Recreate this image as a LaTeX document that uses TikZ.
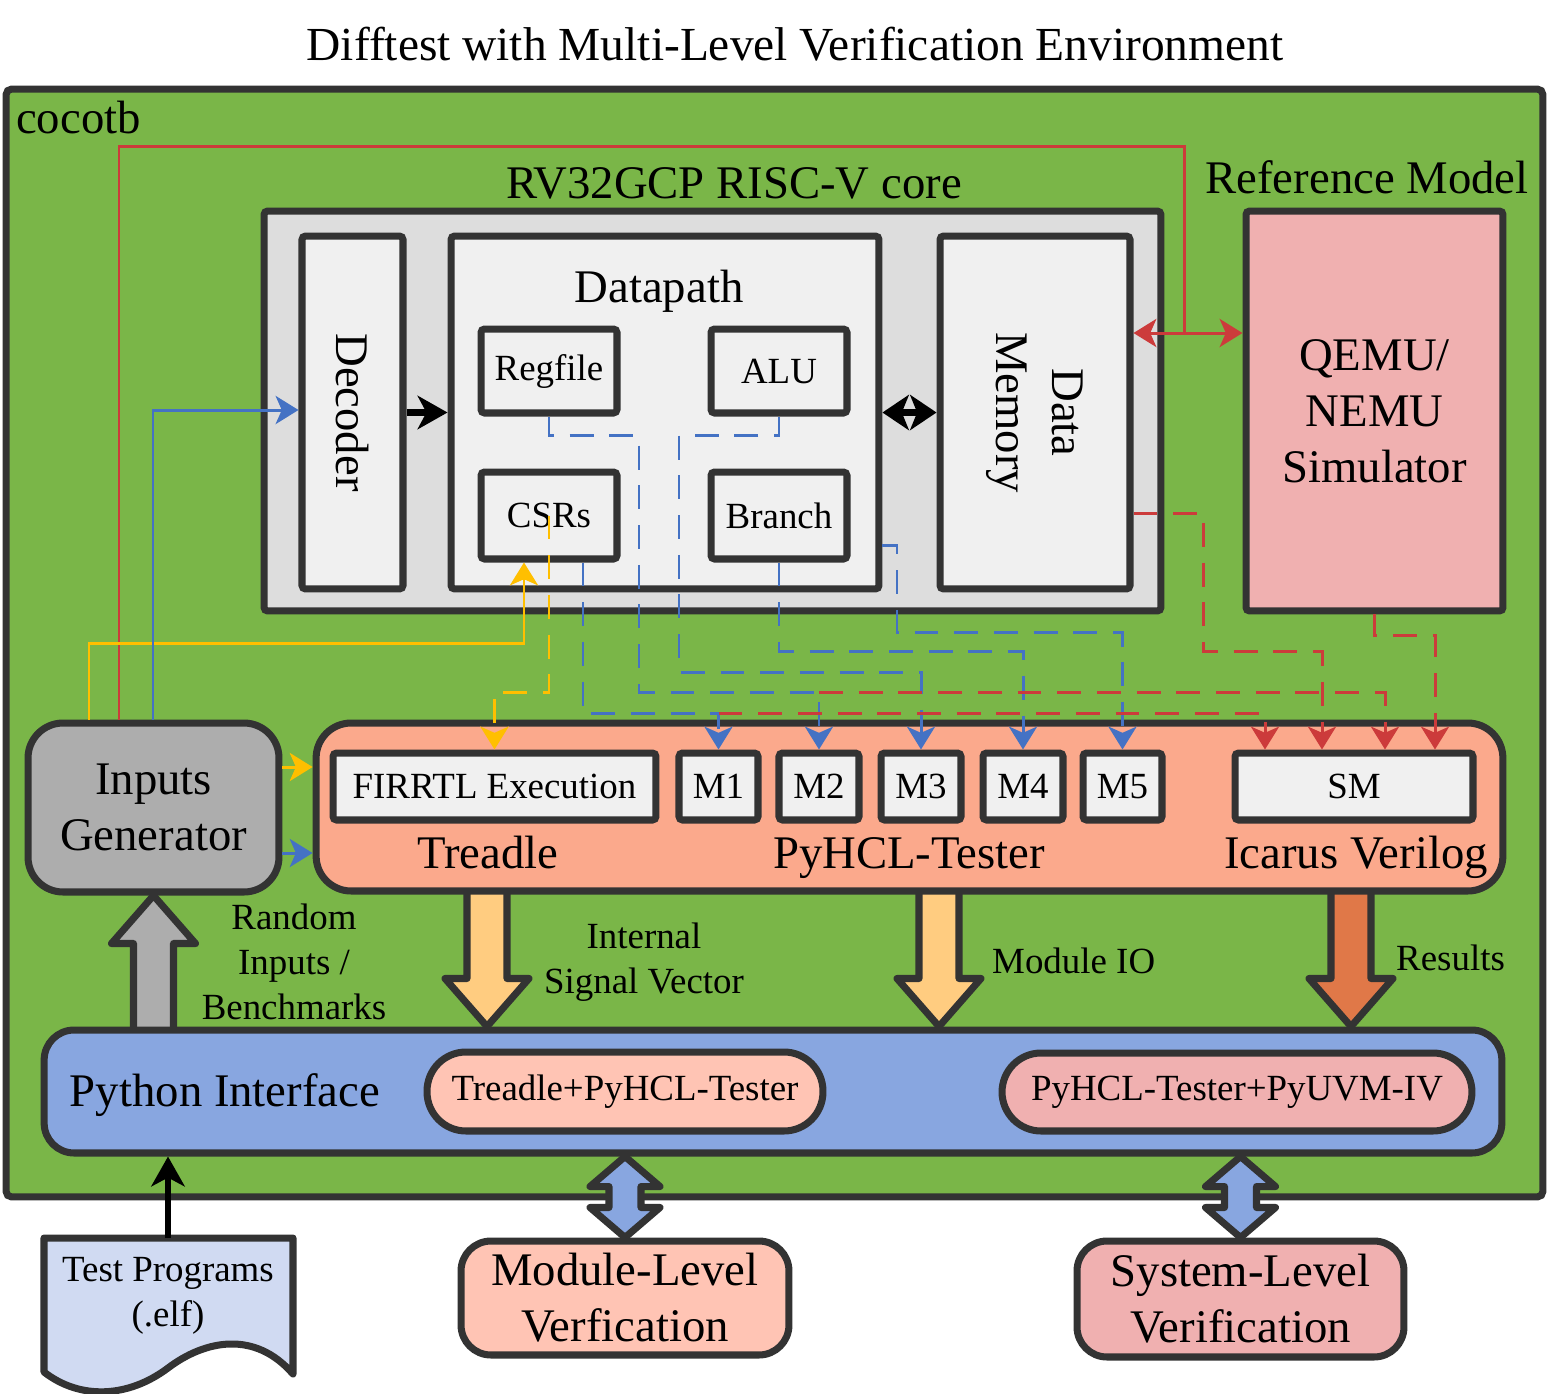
\documentclass[tikz,border=0pt]{standalone}
\usepackage{fontspec}
\setmainfont{Liberation Serif}
\usetikzlibrary{arrows.meta,calc}
\definecolor{CocoGreen}{RGB}{122,182,72}
\definecolor{EdgeGray}{RGB}{51,51,51}
\definecolor{CoreGray}{RGB}{221,221,221}
\definecolor{BoxWhite}{RGB}{240,240,240}
\definecolor{RefPink}{RGB}{240,176,176}
\definecolor{TesterSalmon}{RGB}{251,169,140}
\definecolor{GenGray}{RGB}{173,173,173}
\definecolor{PyBlue}{RGB}{136,166,224}
\definecolor{PillSalmon}{RGB}{255,196,180}
\definecolor{DocBlue}{RGB}{208,218,242}
\definecolor{ArrowGold}{RGB}{255,204,128}
\definecolor{ArrowOrange}{RGB}{224,120,72}
\definecolor{LineRed}{RGB}{204,59,59}
\definecolor{LineBlue}{RGB}{68,114,196}
\definecolor{LineYellow}{RGB}{255,191,0}
\newcommand{\fontbig}{\fontsize{26.6pt}{31.8pt}\selectfont}
\newcommand{\fontsmall}{\fontsize{21pt}{25.5pt}\selectfont}
\pgfdeclarelayer{back}
\pgfsetlayers{back,main}
\tikzset{
    box/.style={draw=EdgeGray, line width=4pt, fill=BoxWhite, rounded corners=2pt,
        inner sep=0pt, align=center, font=\fontsmall},
    panel/.style={box, font=\fontbig},
    sigline/.style={line width=1.7pt, -{Stealth[length=13pt,width=16pt,inset=3.5pt]}},
    sigboth/.style={line width=1.7pt, {Stealth[length=13pt,width=16pt,inset=3.5pt]}-{Stealth[length=13pt,width=16pt,inset=3.5pt]}},
    sigdash/.style={sigline, dash pattern=on 13.6pt off 9pt},
    blackarrow/.style={line width=4.5pt, -{Stealth[length=17pt,width=19pt,inset=5pt]}},
    blackboth/.style={line width=4.5pt, {Stealth[length=15pt,width=20pt,inset=4pt]}-{Stealth[length=15pt,width=20pt,inset=4pt]}},
    fatline/.style={draw=EdgeGray, line width=4pt, line join=round}
}
% block arrow: fill, tail, tip, 1 = down / -1 = up
\newcommand{\fatarrow}[4]{%
    \draw[fatline, fill=#1] ($(#2)+(-20,{-10*(#4)})$) -- ($(#3)+(-20,{-48*(#4)})$) -- ++(-22,0)
        -- (#3) -- ++(42,{-48*(#4)}) -- ++(-22,0) -- ($(#2)+(20,{-10*(#4)})$);}
% double block arrow: fill, upper tip, lower tip
\newcommand{\fatboth}[3]{%
    \draw[fatline, fill=#1] (#2) -- ++(35,30) -- ++(-19,0) -- ($(#3)+(16,-30)$) -- ++(19,0)
        -- (#3) -- ++(-35,-30) -- ++(19,0) -- ($(#2)+(-16,30)$) -- ++(-19,0) -- cycle;}

\begin{document}
\begin{tikzpicture}[x=0.02cm, y=-0.02cm, font=\fontbig]
    \useasboundingbox (0,0) rectangle (1560,1394);
    \node[font=\fontsize{27pt}{32pt}\selectfont, anchor=base] (title) at (795,60) {Difftest with Multi-Level Verification Environment};

    \begin{pgfonlayer}{back}
        \node[panel, fill=CocoGreen, rounded corners=3pt, minimum width=30.74cm, minimum height=22.16cm] (cocotb) at (774.5,643) {};
    \end{pgfonlayer}
    \node[anchor=base west] (cocotbtxt) at (10,133) {cocotb};

    % core
    \node[panel, fill=CoreGray, minimum width=17.94cm, minimum height=8cm] (core) at (712.5,411) {};
    \node[anchor=base] (coretxt) at (734,198) {RV32GCP RISC-V core};
    \node[box, minimum width=2.02cm, minimum height=7.06cm] (dec) at (352.5,412.5) {};
    \node[rotate=-90] (dectxt) at (dec.center) {Decoder};
    \node[box, minimum width=8.56cm, minimum height=7.06cm] (dp) at (665,412.5) {};
    \node[anchor=base] (dptxt) at (659,302) {Datapath};
    \node[box, minimum width=2.72cm, minimum height=1.68cm] (regfile) at (549,371) {Regfile};
    \node[box, minimum width=2.72cm, minimum height=1.68cm] (alu) at (779,371) {ALU};
    \node[box, minimum width=2.72cm, minimum height=1.74cm] (csrs) at (549,515.5) {CSRs};
    \node[box, minimum width=2.72cm, minimum height=1.74cm] (branch) at (779,515.5) {Branch};
    \node[box, minimum width=3.8cm, minimum height=7.06cm] (dmem) at (1035,412.5) {};
    \node[align=center, rotate=-90] (dmemtxt) at (dmem.center) {Data\\Memory};

    % reference model
    \node[panel, fill=RefPink, minimum width=5.14cm, minimum height=8cm] (refm) at (1374.5,411) {QEMU/\\NEMU\\Simulator};
    \node[anchor=base] (refmtxt) at (1367,193) {Reference Model};

    % testers
    \node[panel, fill=GenGray, rounded corners=0.7cm, minimum width=5.02cm, minimum height=3.38cm] (ig) at (153.5,807.5) {Inputs\\Generator};
    \node[panel, fill=TesterSalmon, rounded corners=0.7cm, minimum width=23.74cm, minimum height=3.36cm] (tester) at (909.5,807) {};
    \node[box, minimum width=6.46cm, minimum height=1.34cm] (firrtl) at (494.5,786.5) {FIRRTL Execution};
    \node[box, minimum width=1.58cm, minimum height=1.34cm] (m1) at (718.5,786.5) {M1};
    \node[box, minimum width=1.6cm, minimum height=1.34cm] (m2) at (819,786.5) {M2};
    \node[box, minimum width=1.6cm, minimum height=1.34cm] (m3) at (921,786.5) {M3};
    \node[box, minimum width=1.6cm, minimum height=1.34cm] (m4) at (1023,786.5) {M4};
    \node[box, minimum width=1.58cm, minimum height=1.34cm] (m5) at (1122.5,786.5) {M5};
    \node[box, minimum width=4.76cm, minimum height=1.34cm] (sm) at (1354,786.5) {SM};
    \node[anchor=base] (treadletxt) at (488,868) {Treadle};
    \node[anchor=base] (pyhcltxt) at (909,868) {PyHCL-Tester};
    \node[anchor=base] (icarustxt) at (1356,868) {Icarus Verilog};

    % python interface
    \node[panel, fill=PyBlue, rounded corners=0.6cm, minimum width=29.16cm, minimum height=2.46cm] (pyif) at (773,1091.5) {};
    \node[anchor=base] (pyiftxt) at (225,1106) {Python Interface};
    \node[box, fill=PillSalmon, rounded corners=0.78cm, minimum width=7.92cm, minimum height=1.58cm] (pilltreadle) at (625,1091.5) {Treadle+PyHCL-Tester};
    \node[box, fill=RefPink, rounded corners=0.78cm, minimum width=9.4cm, minimum height=1.56cm] (pilluvm) at (1237,1092) {PyHCL-Tester+PyUVM-IV};

    % outside
    \node[panel, fill=PillSalmon, rounded corners=0.6cm, minimum width=6.56cm, minimum height=2.28cm] (modlvl) at (625,1298) {Module-Level\\Verfication};
    \node[panel, fill=RefPink, rounded corners=0.6cm, minimum width=6.54cm, minimum height=2.32cm] (syslvl) at (1240.5,1299) {System-Level\\Verification};
    \draw[draw=EdgeGray, line width=4pt, fill=DocBlue, line join=round] (44,1238) -- (293,1238)
        -- (293,1374) .. controls (255,1330) and (205,1340) .. (168,1368)
        .. controls (128,1398) and (80,1400) .. (44,1372) -- cycle;
    \node[font=\fontsmall, align=center] (testprog) at (168,1296) {Test Programs\\(.elf)};
    \coordinate (doctop) at (168,1238);

    % block arrows
    \coordinate (tdA) at (tester.south -| 487,0);
    \coordinate (tdB) at (pyif.north -| 487,0);
    \coordinate (ioA) at (tester.south -| 939,0);
    \coordinate (ioB) at (pyif.north -| 939,0);
    \coordinate (rsA) at (tester.south -| 1351,0);
    \coordinate (rsB) at (pyif.north -| 1351,0);
    \coordinate (rnA) at (pyif.north -| ig.south);
    \begin{pgfonlayer}{back}
        \fatarrow{GenGray}{rnA}{ig.south}{-1}
        \fatarrow{ArrowGold}{tdA}{tdB}{1}
        \fatarrow{ArrowGold}{ioA}{ioB}{1}
        \fatarrow{ArrowOrange}{rsA}{rsB}{1}
    \end{pgfonlayer}
    \coordinate (mvA) at (pyif.south -| modlvl.north);
    \coordinate (svA) at (pyif.south -| syslvl.north);
    \fatboth{PyBlue}{mvA}{modlvl.north}
    \fatboth{PyBlue}{svA}{syslvl.north}
    \node[font=\fontsmall, align=center] (randtxt) at (294,962) {Random\\Inputs /\\Benchmarks};
    \node[font=\fontsmall, align=center] (sigtxt) at (644,962) {Internal\\Signal Vector};
    \node[font=\fontsmall, anchor=base west] (iotxt) at (986,973) {Module IO};
    \node[font=\fontsmall, anchor=base west] (restxt) at (1390,970) {Results};

    % black arrows
    \draw[blackarrow] (dec.east) -- (dp.west);
    \draw[blackboth] (dp.east) -- (dmem.west);
    \draw[blackarrow, line width=3.5pt] (doctop) -- (doctop |- pyif.south);

    % solid signals
    \coordinate (dlink) at (1184,333);
    \draw[sigboth, LineRed] (dmem.east |- dlink) -- (refm.west |- dlink);
    \draw[sigline, LineRed, -] (ig.north -| 119,0) |- (1184,146) -- (dlink);
    \draw[sigline, LineYellow] (ig.north -| 89,0) |- (524,643) -- (csrs.south -| 524,0);
    \draw[sigline, LineBlue] (ig.north -| 153,0) |- (dec.west |- 0,410);
    \draw[sigline, LineYellow] (ig.east |- 0,767) -- (tester.west |- 0,767);
    \draw[sigline, LineBlue] (ig.east |- 0,853) -- (tester.west |- 0,853);

    % dashed signals
    \draw[sigdash, LineYellow] (csrs.center) -- (csrs.center |- 0,692) -| (firrtl.north);
    \draw[sigdash, LineBlue] (regfile.south) -- ++(0,19) -| (639,692) -| (m2.north);
    \draw[sigdash, LineBlue] (alu.south) -- ++(0,19) -| (679,672) -| (m3.north);
    \draw[sigdash, LineBlue] (csrs.south -| 583,0) |- (m1.north |- 0,713) -- (m1.north);
    \draw[sigdash, LineBlue] (branch.south) |- (m4.north |- 0,651) -- (m4.north);
    \draw[sigdash, LineBlue] (dp.east |- 0,545) -| (897,632) -| (m5.north);
    \draw[sigdash, LineRed] (m1.north |- 0,713) -| (sm.north -| 1265,0);
    \draw[sigdash, LineRed] (m2.north |- 0,692) -| (sm.north -| 1385,0);
    \draw[sigdash, LineRed] (dmem.east |- 0,513) -| (1203,651) -| (sm.north -| 1322,0);
    \draw[sigdash, LineRed] (refm.south) -- ++(0,21) -| (sm.north -| 1435,0);
\end{tikzpicture}
\end{document}
